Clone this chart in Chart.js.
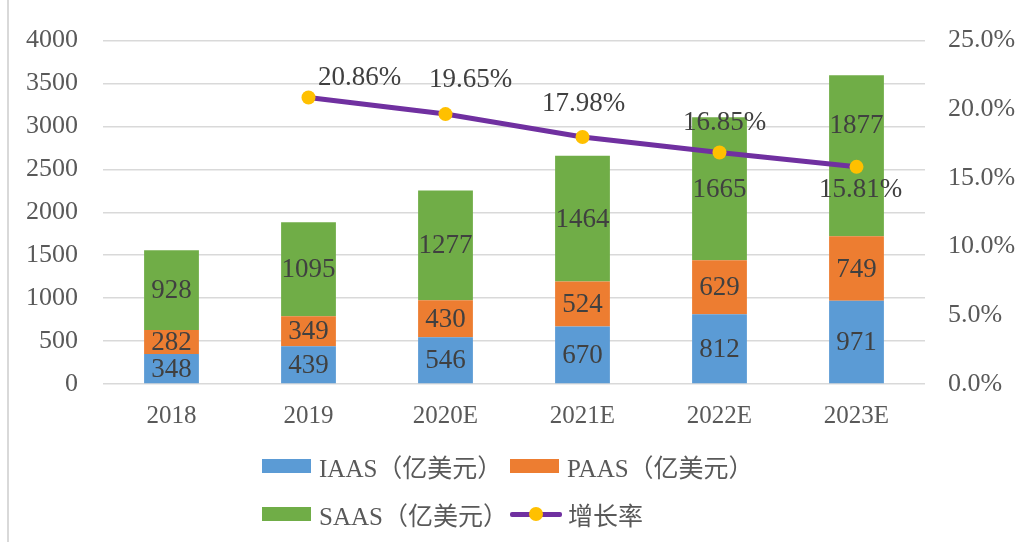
<!DOCTYPE html>
<html>
<head>
<meta charset="utf-8">
<script src="https://cdn.jsdelivr.net/npm/chart.js@4"></script>
<style>
  html, body { margin: 0; padding: 0; background: #fff; }
  #wrap { position: relative; width: 1023px; height: 542px; }
  #legend {
    position: absolute; left: 262px; top: 448px;
    display: grid; grid-template-columns: 248px 260px; row-gap: 12px;
    font-family: "Liberation Serif", "Noto Sans CJK SC", serif; font-size: 25px; color: #595959;
  }
  .item { display: flex; align-items: center; height: 36px; white-space: nowrap; }
  .box { width: 49px; height: 14px; margin-right: 8px; }
  .ln { position: relative; width: 52px; height: 14px; margin-right: 6px; }
  .ln:before { content: ""; position: absolute; left: 0; right: 0; top: 5px; height: 5px; background: #7030a0; border-radius: 2px; }
  .ln:after { content: ""; position: absolute; left: 19px; top: 0; width: 14px; height: 14px; border-radius: 50%; background: #ffc000; }
</style>
</head>
<body>
<div id="wrap">
  <canvas id="chart" width="1023" height="542"></canvas>
  <div id="legend">
    <div class="item"><span class="box" style="background:#5b9bd5"></span>IAAS（亿美元）</div>
    <div class="item"><span class="box" style="background:#ed7d31"></span>PAAS（亿美元）</div>
    <div class="item"><span class="box" style="background:#70ad47"></span>SAAS（亿美元）</div>
    <div class="item"><span class="ln"></span>增长率</div>
  </div>
</div>
<script>
const years = ["2018", "2019", "2020E", "2021E", "2022E", "2023E"];
const iaas = [348, 439, 546, 670, 812, 971];
const paas = [282, 349, 430, 524, 629, 749];
const saas = [928, 1095, 1277, 1464, 1665, 1877];
const growth = [null, 20.86, 19.65, 17.98, 16.85, 15.81];

const FONT = '"Liberation Serif", "Times New Roman", serif';

// offsets of the growth labels relative to their points
const growthLabelOffset = [null, [51, -20], [25, -34], [1, -33], [5, -30], [4, 23]];
// the last SAAS label sits higher to clear the line
const saasLabelShift = [0, 0, 0, 0, 0, -31];

const labelPlugin = {
  id: 'valueLabels',
  afterDatasetsDraw(chart) {
    const ctx = chart.ctx;
    ctx.save();
    ctx.font = '27px ' + FONT;
    ctx.fillStyle = '#404040';
    ctx.textAlign = 'center';
    ctx.textBaseline = 'middle';
    [0, 1, 2].forEach(function (di) {
      const meta = chart.getDatasetMeta(di);
      meta.data.forEach(function (bar, i) {
        const v = chart.data.datasets[di].data[i];
        const dy = di === 2 ? saasLabelShift[i] : 0;
        ctx.fillText(String(v), bar.x, (bar.y + bar.base) / 2 + 1 + dy);
      });
    });
    const lm = chart.getDatasetMeta(3);
    lm.data.forEach(function (pt, i) {
      const v = growth[i];
      if (v == null) return;
      const off = growthLabelOffset[i];
      ctx.fillText(v.toFixed(2) + '%', pt.x + off[0], pt.y + off[1]);
    });
    // left frame line
    ctx.strokeStyle = '#d9d9d9';
    ctx.lineWidth = 2;
    ctx.beginPath();
    ctx.moveTo(8, 0);
    ctx.lineTo(8, chart.height);
    ctx.stroke();
    ctx.restore();
  }
};

function createChart() {
  new Chart(document.getElementById('chart'), {
    data: {
      labels: years,
      datasets: [
        { type: 'bar', label: 'IAAS（亿美元）', data: iaas, backgroundColor: '#5b9bd5', yAxisID: 'y', order: 2 },
        { type: 'bar', label: 'PAAS（亿美元）', data: paas, backgroundColor: '#ed7d31', yAxisID: 'y', order: 2 },
        { type: 'bar', label: 'SAAS（亿美元）', data: saas, backgroundColor: '#70ad47', yAxisID: 'y', order: 2 },
        {
          type: 'line', label: '增长率', data: growth, yAxisID: 'y1', order: 1,
          borderColor: '#7030a0', borderWidth: 5, pointRadius: 7, pointHoverRadius: 7,
          pointBackgroundColor: '#ffc000', pointBorderWidth: 0, tension: 0, spanGaps: false
        }
      ]
    },
    options: {
      responsive: false,
      animation: false,
      layout: { padding: { top: 33, bottom: 102, left: 0, right: 0 } },
      datasets: { bar: { barPercentage: 0.4, categoryPercentage: 1 } },
      plugins: { legend: { display: false }, tooltip: { enabled: false } },
      scales: {
        x: {
          stacked: true,
          grid: { display: false },
          border: { display: false },
          ticks: { color: '#595959', font: { family: FONT, size: 25 }, padding: 9 }
        },
        y: {
          stacked: true, position: 'left', min: 0, max: 4000,
          ticks: { stepSize: 500, color: '#595959', font: { family: FONT, size: 26 }, padding: 25,
            callback: function (v) { return String(v); } },
          grid: { color: '#d9d9d9', lineWidth: 1.5, drawTicks: false },
          border: { display: false },
          afterFit(s) { s.width = 103; }
        },
        y1: {
          position: 'right', min: 0, max: 25,
          ticks: { stepSize: 5, color: '#595959', font: { family: FONT, size: 26 }, padding: 23,
            callback: function (v) { return v.toFixed(1) + '%'; } },
          grid: { display: false, drawTicks: false },
          border: { display: false },
          afterFit(s) { s.width = 98; }
        }
      }
    },
    plugins: [labelPlugin]
  });
}

document.addEventListener('DOMContentLoaded', createChart);
</script>
</body>
</html>
